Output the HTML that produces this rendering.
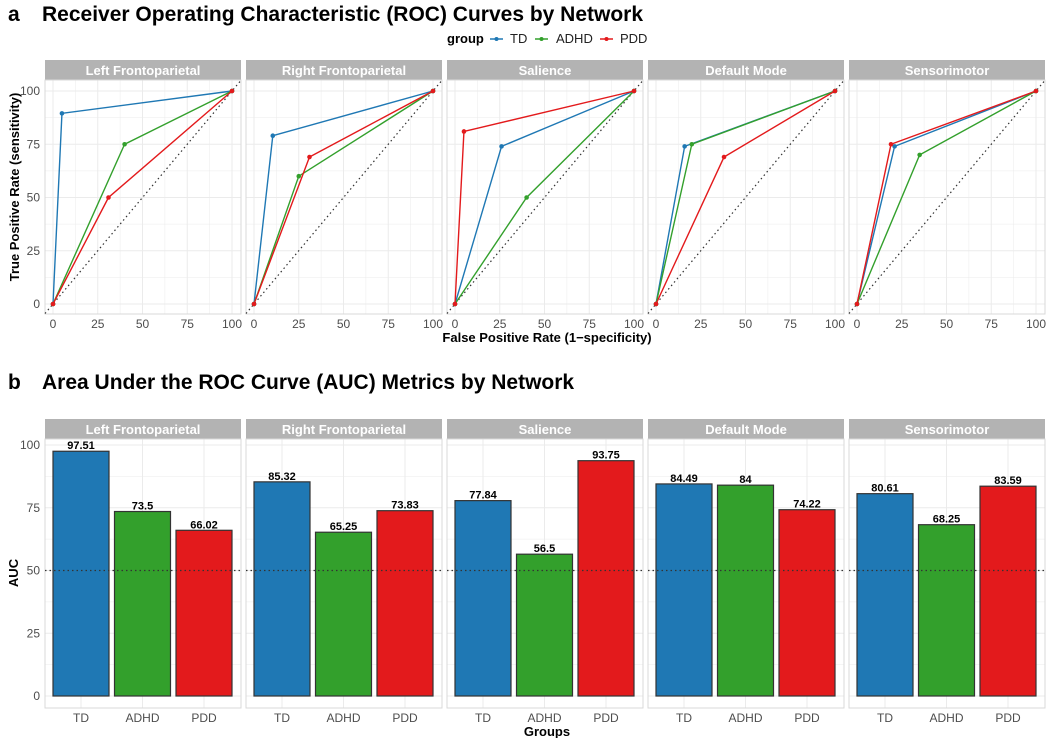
<!DOCTYPE html>
<html><head><meta charset="utf-8"><style>
body{margin:0;background:#fff;font-family:"Liberation Sans",sans-serif}
svg text{font-family:"Liberation Sans",sans-serif}
</style></head><body>
<svg id="c" width="1050" height="738" xmlns="http://www.w3.org/2000/svg">
<text x="8" y="21" font-size="21" font-weight="bold">a</text>
<text x="42" y="21" font-size="21" font-weight="bold">Receiver Operating Characteristic (ROC) Curves by Network</text>
<text x="8" y="389" font-size="21" font-weight="bold">b</text>
<text x="42" y="389" font-size="21" font-weight="bold">Area Under the ROC Curve (AUC) Metrics by Network</text>
<g>
<text x="447" y="43" font-size="13" font-weight="bold">group</text>
<g><line x1="490" y1="39" x2="503" y2="39" stroke="#1f78b4" stroke-width="1.5"/><circle cx="496.5" cy="39" r="2" fill="#1f78b4"/><text x="510" y="43" font-size="13" fill="#222">TD</text></g>
<g><line x1="535" y1="39" x2="548" y2="39" stroke="#33a02c" stroke-width="1.5"/><circle cx="541.5" cy="39" r="2" fill="#33a02c"/><text x="556" y="43" font-size="13" fill="#222">ADHD</text></g>
<g><line x1="600" y1="39" x2="613" y2="39" stroke="#e31a1c" stroke-width="1.5"/><circle cx="606.5" cy="39" r="2" fill="#e31a1c"/><text x="620" y="43" font-size="13" fill="#222">PDD</text></g>
</g>
<text x="547" y="342" font-size="13" font-weight="bold" text-anchor="middle">False Positive Rate (1−specificity)</text>
<text transform="translate(19,187) rotate(-90)" font-size="13" font-weight="bold" text-anchor="middle">True Positive Rate (sensitivity)</text>
<text x="547" y="736" font-size="13" font-weight="bold" text-anchor="middle">Groups</text>
<text transform="translate(18,573) rotate(-90)" font-size="13" font-weight="bold" text-anchor="middle">AUC</text>
</svg>
<script>
const networks=["Left Frontoparietal","Right Frontoparietal","Salience","Default Mode","Sensorimotor"];
const groups=["TD","ADHD","PDD"];
const colors=["#1f78b4","#33a02c","#e31a1c"];
// ROC mid points (FPR, TPR) per network per group
const rocFpr=[[5,40,31],[10.5,25,31],[26,40,5],[16,20,38],[21,35,19]];
const rocTpr=[[89.5,75,50],[79,60,69],[74,50,81],[74,75,69],[74,70,75]];
const aucVals=[[97.51,73.5,66.02],[85.32,65.25,73.83],[77.84,56.5,93.75],[84.49,84,74.22],[80.61,68.25,83.59]];
const aucLabels=[["97.51","73.5","66.02"],["85.32","65.25","73.83"],["77.84","56.5","93.75"],["84.49","84","74.22"],["80.61","68.25","83.59"]];
const ticks=[0,25,50,75,100];
const tickLabels=["0","25","50","75","100"];
const NS="http://www.w3.org/2000/svg";
const svg=document.getElementById('c');
function mk(t,a,p){const e=document.createElementNS(NS,t);for(const k in a)e.setAttribute(k,a[k]);(p||svg).appendChild(e);return e;}
const PW=196,STEP=201,X0=45;
// ROC
const rY=v=>304-(v/100)*213;
networks.forEach((n,i)=>{
 const px=X0+i*STEP;
 const rX=v=>px+8+(v/100)*179;
 const g=mk('g',{});
 
 
 const st=mk('rect',{x:px,y:60,width:PW,height:20,fill:'#b3b3b3'},g);
 
 
 const stt=mk('text',{x:px+PW/2,y:75,'font-size':13,'font-weight':'bold',fill:'#fff','text-anchor':'middle'},g);stt.textContent=n;
 
 
 for(let k=0;k<9;k++){const v=k*12.5;const w=k%2?0.5:1;
  mk('line',{x1:px,x2:px+PW,y1:rY(v),y2:rY(v),stroke:'#ebebeb','stroke-width':w},g);
  mk('line',{y1:80,y2:314,x1:rX(v),x2:rX(v),stroke:'#ebebeb','stroke-width':w},g);}
 mk('rect',{x:px,y:80,width:PW,height:234,fill:'none',stroke:'#d9d9d9'},g);
 const dl=mk('line',{x1:px,y1:rY(((px-(px+8))/179)*100),x2:px+PW,y2:rY(((PW-8)/179)*100),stroke:'#333','stroke-dasharray':'1.5,3','stroke-width':1.2},g);
 
 
 ticks.forEach((t,j)=>{
  const tx=mk('text',{x:rX(t),y:328,'font-size':12,fill:'#4d4d4d','text-anchor':'middle'},g);tx.textContent=tickLabels[j];
  if(i==0){const ty=mk('text',{x:px-5,y:rY(t)+4,'font-size':12,fill:'#4d4d4d','text-anchor':'end'},g);ty.textContent=tickLabels[j];}
 });
 groups.forEach((gr,j)=>{
  const pts=[[0,0],[rocFpr[i][j],rocTpr[i][j]],[100,100]];
  const pl=mk('polyline',{points:pts.map(p=>rX(p[0])+','+rY(p[1])).join(' '),fill:'none',stroke:colors[j],'stroke-width':1.4},g);
  
  
  pts.forEach(p=>{const c=mk('circle',{cx:rX(p[0]),cy:rY(p[1]),r:2.3,fill:colors[j]},g);
   
   });
 });
});
// AUC
const bY=v=>696-(v/100)*251;
networks.forEach((n,i)=>{
 const px=X0+i*STEP;
 const cX=j=>px+36+j*61.5;
 const g=mk('g',{});
 
 
 const st=mk('rect',{x:px,y:419,width:PW,height:20,fill:'#b3b3b3'},g);
 
 
 const stt=mk('text',{x:px+PW/2,y:434,'font-size':13,'font-weight':'bold',fill:'#fff','text-anchor':'middle'},g);stt.textContent=n;
 
 
 for(let k=0;k<9;k++){const v=k*12.5;if(bY(v)<439)continue;
  mk('line',{x1:px,x2:px+PW,y1:bY(v),y2:bY(v),stroke:'#ebebeb','stroke-width':k%2?0.5:1},g);}
 groups.forEach((gr,j)=>mk('line',{x1:cX(j),x2:cX(j),y1:439,y2:708,stroke:'#ebebeb'},g));
 mk('rect',{x:px,y:439,width:PW,height:269,fill:'none',stroke:'#d9d9d9'},g);
 groups.forEach((gr,j)=>{
  const v=aucVals[i][j];
  const b=mk('rect',{x:cX(j)-28,y:bY(v),width:56,height:bY(0)-bY(v),fill:colors[j],stroke:'#333','stroke-width':1.2},g);
  
  
  const t=mk('text',{x:cX(j),y:bY(v)-2,'font-size':11,'font-weight':'bold','text-anchor':'middle'},g);t.textContent=aucLabels[i][j];
  
  
  const xl=mk('text',{x:cX(j),y:722,'font-size':12,fill:'#4d4d4d','text-anchor':'middle'},g);xl.textContent=gr;
 });
 const ref=mk('line',{x1:px,x2:px+PW,y1:bY(50),y2:bY(50),stroke:'#333','stroke-dasharray':'1.5,3','stroke-width':1.2},g);
 
 
 if(i==0)ticks.forEach((t,j)=>{const ty=mk('text',{x:px-5,y:bY(t)+4,'font-size':12,fill:'#4d4d4d','text-anchor':'end'},g);ty.textContent=tickLabels[j];});
});
</script>
</body></html>
